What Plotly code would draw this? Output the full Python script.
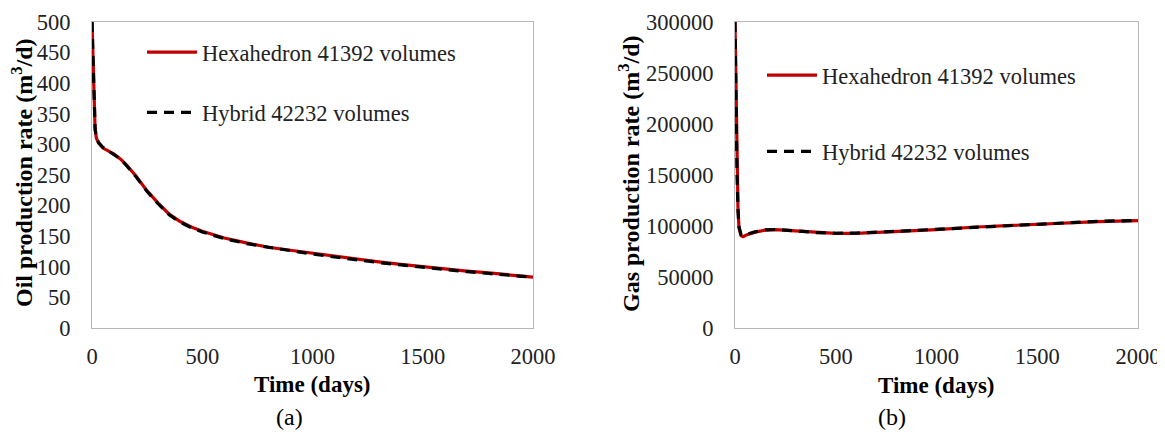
import plotly.graph_objects as go

# ---- data ----
oil_t = [0, 3, 6, 10, 14, 20, 30, 50, 80, 100, 130, 160, 200, 250, 300, 350, 400, 450, 500,
         600, 700, 800, 900, 1000, 1100, 1200, 1300, 1400, 1500, 1600, 1700, 1800, 1900, 2000]
oil_hexa = [500, 450, 400, 350, 325, 310, 302, 294, 288, 284, 276, 265, 248, 224, 204, 186, 174, 165, 158,
            147, 139, 132, 127, 122, 117, 112, 108, 104, 100, 96, 93, 90, 87, 83]
oil_hybrid = [500, 450, 400, 350, 326, 311, 303, 295, 288, 284, 276, 264, 247, 223, 203, 185, 173, 164, 157,
              146, 138, 132, 126, 121, 116, 111, 107, 103, 99, 95, 92, 89, 86, 83]

gas_t = [0, 3, 6, 10, 15, 20, 30, 40, 60, 100, 150, 200, 300, 400, 500, 600, 800,
         1000, 1200, 1400, 1600, 1800, 2000]
gas_hexa = [300000, 250000, 200000, 150000, 115000, 98000, 90500, 89500, 91500, 94000, 96000, 96500,
            95200, 93500, 92800, 92800, 94500, 96500, 99000, 101000, 103000, 104300, 105200]
gas_hybrid = [300000, 250000, 200000, 150000, 116000, 99000, 91500, 90500, 92000, 94300, 96200, 96600,
              95300, 93600, 92900, 93000, 94800, 96800, 99300, 101300, 103300, 104600, 105400]

x_ticks = [0, 500, 1000, 1500, 2000]
oil_ticks = [0, 50, 100, 150, 200, 250, 300, 350, 400, 450, 500]
gas_ticks = [0, 50000, 100000, 150000, 200000, 250000, 300000]
gas_ticktext = [str(v) for v in gas_ticks]

name_hexa = "Hexahedron 41392 volumes"
name_hybrid = "Hybrid 42232 volumes"

FONT = "Liberation Serif"
RED = "#c00000"
GRID = "#b7b7b7"

# The page body has an 8px margin, so the figure is drawn 8px in from the window corner.
OFF = 8
W, H = 1165 - OFF, 434 - OFF


def px(x):
    return (x - OFF) / W


def py(y):
    return 1 - (y - OFF) / H


fig = go.Figure()

# Panel (a)
fig.add_trace(go.Scatter(x=oil_t, y=oil_hexa, mode="lines", name=name_hexa,
                         line=dict(color=RED, width=3.2), xaxis="x", yaxis="y",
                         legend="legend", legendgroup="a1"))
fig.add_trace(go.Scatter(x=oil_t, y=oil_hybrid, mode="lines", name=name_hybrid,
                         line=dict(color="black", width=3.2, dash="10px,7px"), xaxis="x", yaxis="y",
                         legend="legend", legendgroup="a2"))
# Panel (b)
fig.add_trace(go.Scatter(x=gas_t, y=gas_hexa, mode="lines", name=name_hexa,
                         line=dict(color=RED, width=3.2), xaxis="x2", yaxis="y2",
                         legend="legend2", legendgroup="b1"))
fig.add_trace(go.Scatter(x=gas_t, y=gas_hybrid, mode="lines", name=name_hybrid,
                         line=dict(color="black", width=3.2, dash="10px,7px"), xaxis="x2", yaxis="y2",
                         legend="legend2", legendgroup="b2"))

dom_a = [px(92), px(533)]
dom_b = [px(735), px(1138)]
dom_y = [py(328), py(22)]

axis_common = dict(showline=True, linecolor=GRID, linewidth=1, mirror=True, showgrid=False,
                   zeroline=False, automargin=False,
                   tickfont=dict(family=FONT, size=22.5, color="#222222"))
yaxis_ticks = dict(ticks="outside", ticklen=16, tickwidth=1, tickcolor="rgba(0,0,0,0)")

fig.update_layout(
    width=W, height=H,
    margin=dict(l=0, r=0, t=0, b=0, autoexpand=False),
    paper_bgcolor="white", plot_bgcolor="white",
    font=dict(family=FONT, color="black"),
    xaxis=dict(domain=dom_a, anchor="y", range=[0, 2000], tickvals=x_ticks, ticks="",
               ticklabelstandoff=8, **axis_common),
    yaxis=dict(domain=dom_y, anchor="x", range=[0, 500], tickvals=oil_ticks,
               **yaxis_ticks, **axis_common),
    xaxis2=dict(domain=dom_b, anchor="y2", range=[0, 2000], tickvals=x_ticks, ticks="",
                ticklabelstandoff=8, **axis_common),
    yaxis2=dict(domain=dom_y, anchor="x2", range=[0, 300000], tickvals=gas_ticks,
                ticktext=gas_ticktext, **yaxis_ticks, **axis_common),
    legend=dict(x=px(142), y=py(31), xanchor="left", yanchor="top",
                font=dict(family=FONT, size=22.5, color="#222222"),
                bgcolor="rgba(0,0,0,0)", tracegroupgap=28, itemwidth=50),
    legend2=dict(x=px(762), y=py(54), xanchor="left", yanchor="top",
                 font=dict(family=FONT, size=22.5, color="#222222"),
                 bgcolor="rgba(0,0,0,0)", tracegroupgap=44, itemwidth=50),
    showlegend=True,
)

annots = [
    dict(text="<b>Time (days)</b>", x=px(313), y=py(384), size=23),
    dict(text="<b>Time (days)</b>", x=px(936), y=py(385), size=23),
    dict(text="(a)", x=px(289), y=py(417), size=24),
    dict(text="(b)", x=px(892), y=py(417), size=24),
    dict(text="<b>Oil production rate (m<sup>3</sup>/d)</b>", x=px(22), y=py(173), textangle=-90, size=24),
    dict(text="<b>Gas production rate (m<sup>3</sup>/d)</b>", x=px(629), y=py(174), textangle=-90, size=24),
]
for a in annots:
    size = a.pop("size")
    fig.add_annotation(xref="paper", yref="paper", showarrow=False, xanchor="center", yanchor="middle",
                       font=dict(family=FONT, size=size, color="black"), **a)

fig.write_html("out.html")
